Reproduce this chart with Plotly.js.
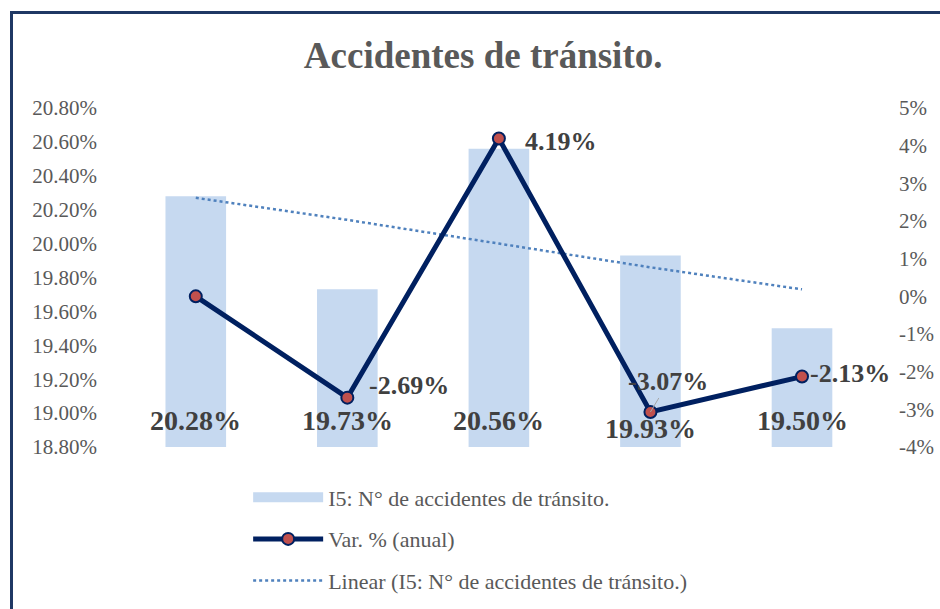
<!DOCTYPE html>
<html>
<head>
<meta charset="utf-8">
<script src="https://cdn.plot.ly/plotly-3.0.1.min.js"></script>
<style>
  html, body { margin: 0; padding: 0; overflow: hidden; background: #fff; }
  #chart { position: absolute; left: 0; top: 0; width: 940px; height: 609px; }
  #frame { position: absolute; left: 10px; top: 11px; width: 1000px; height: 700px;
           border: 3px solid #1f3864; pointer-events: none; box-sizing: border-box; }
</style>
</head>
<body>
<div id="chart"></div>
<div id="frame"></div>
<script>
// ---- data ----
const periods = ['P1', 'P2', 'P3', 'P4', 'P5'];
const accidentShare = [20.28, 19.73, 20.56, 19.93, 19.50];      // left axis, %
const annualVar = [0.00, -2.69, 4.19, -3.07, -2.13];            // right axis, %
const trendValues = [20.27, 20.14, 20.00, 19.86, 19.73];        // Excel linear trend (read)
const barLabels = ['20.28%', '19.73%', '20.56%', '19.93%', '19.50%'];
const varLabels = ['', '-2.69%', '4.19%', '-3.07%', '-2.13%'];
const leftTickVals = [18.8, 19.0, 19.2, 19.4, 19.6, 19.8, 20.0, 20.2, 20.4, 20.6, 20.8];
const leftTickText = ['18.80%', '19.00%', '19.20%', '19.40%', '19.60%', '19.80%', '20.00%', '20.20%', '20.40%', '20.60%', '20.80%'];
const rightTickVals = [-4, -3, -2, -1, 0, 1, 2, 3, 4, 5];
const rightTickText = ['-4%', '-3%', '-2%', '-1%', '0%', '1%', '2%', '3%', '4%', '5%'];

const serif = 'Liberation Serif, Times New Roman, serif';
const barColor = '#c6d9f0';
const lineColor = '#002060';

const traces = [
  {
    type: 'bar', x: periods, y: accidentShare, yaxis: 'y',
    marker: { color: barColor }, showlegend: false, hoverinfo: 'skip'
  },
  {
    // legend entry for bars (wide rectangle swatch)
    type: 'scatter', mode: 'lines', x: [null], y: [null], yaxis: 'y',
    name: 'I5: N° de accidentes de tránsito.', legendgroup: 'g1',
    line: { color: barColor, width: 12 }
  },
  {
    type: 'scatter', mode: 'lines+markers', x: periods, y: annualVar, yaxis: 'y2',
    name: 'Var. % (anual)', legendgroup: 'g2',
    line: { color: lineColor, width: 5 },
    marker: { color: '#c0504d', size: 12, line: { color: lineColor, width: 2 } }
  },
  {
    type: 'scatter', mode: 'lines', x: periods, y: trendValues, yaxis: 'y',
    name: 'Linear (I5: N° de accidentes de tránsito.)', legendgroup: 'g3',
    line: { color: '#4f81bd', width: 2.5, dash: 'dot' }, hoverinfo: 'skip'
  }
];

const annotations = [];
periods.forEach((p, i) => {
  annotations.push({
    x: p, y: 18.8, xref: 'x', yref: 'y', text: '<b>' + barLabels[i] + '</b>',
    showarrow: false, yanchor: 'middle', yshift: (i === 3 ? 19 : 27),
    font: { family: serif, size: 28, color: '#404040' }
  });
});
// line labels
const varShift = [null, [20, 12], [24, -3], null, [6, 3]];
periods.forEach((p, i) => {
  if (!varLabels[i]) return;
  if (i === 3) {
    annotations.push({
      x: p, y: annualVar[i], xref: 'x', yref: 'y2', text: '<b>' + varLabels[i] + '</b>',
      showarrow: true, arrowhead: 0, arrowwidth: 1, arrowcolor: '#a6a6a6',
      ax: 18, ay: -30, font: { family: serif, size: 26, color: '#404040' }
    });
  } else {
    annotations.push({
      x: p, y: annualVar[i], xref: 'x', yref: 'y2', text: '<b>' + varLabels[i] + '</b>',
      showarrow: false, xanchor: 'left', yanchor: 'middle',
      xshift: varShift[i][0], yshift: varShift[i][1],
      font: { family: serif, size: 26, color: '#404040' }
    });
  }
});

const layout = {
  width: 940, height: 609,
  paper_bgcolor: '#ffffff', plot_bgcolor: '#ffffff',
  margin: { l: 120, r: 48, t: 108, b: 162, autoexpand: false },
  title: {
    text: '<b>Accidentes de tránsito.</b>',
    font: { family: serif, size: 37, color: '#595959' },
    x: 0.514, xanchor: 'center', y: 0.91, yanchor: 'middle'
  },
  bargap: 0.6,
  xaxis: { type: 'category', showticklabels: false, showgrid: false, zeroline: false,
           showline: false, ticks: '' },
  yaxis: {
    range: [18.8, 20.8], tickvals: leftTickVals, ticktext: leftTickText,
    showgrid: false, zeroline: false, showline: false, ticks: '',
    ticklabelstandoff: 22,
    tickfont: { family: serif, size: 21, color: '#595959' }
  },
  yaxis2: {
    range: [-4, 5], overlaying: 'y', side: 'right',
    tickvals: rightTickVals, ticktext: rightTickText,
    showgrid: false, zeroline: false, showline: false, ticks: '',
    ticklabelstandoff: 6,
    tickfont: { family: serif, size: 21, color: '#595959' }
  },
  legend: {
    x: 0.166, xanchor: 'left', y: -0.087, yanchor: 'top',
    orientation: 'v', traceorder: 'grouped', tracegroupgap: 10,
    itemwidth: 70, bgcolor: 'rgba(0,0,0,0)',
    font: { family: serif, size: 22, color: '#595959' }
  },
  annotations: annotations,
  showlegend: true
};

Plotly.newPlot('chart', traces, layout, { displayModeBar: false, staticPlot: true });
</script>
</body>
</html>
